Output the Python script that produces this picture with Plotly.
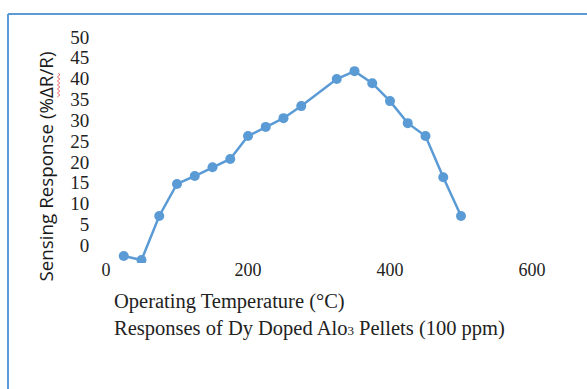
import plotly.graph_objects as go

# Operating temperature (°C) and sensing response (%ΔR/R)
temperature = [25, 50, 75, 100, 125, 150, 175, 200, 225, 250, 275,
               325, 350, 375, 400, 425, 450, 475, 500]
response = [-2.6, -3.6, 7.0, 14.7, 16.6, 18.7, 20.7, 26.2, 28.4, 30.5, 33.4,
            39.9, 41.8, 38.9, 34.6, 29.3, 26.2, 16.3, 7.0]

x_ticks = [0, 200, 400, 600]
y_ticks = [0, 5, 10, 15, 20, 25, 30, 35, 40, 45, 50]

W, H = 587, 389
L, R, T, B = 106, 55, 37, 126
plot_h = H - T - B


def py(pix):
    # pixel row -> paper y
    return (H - B - pix) / plot_h


def px(pix):
    # pixel column -> paper x
    return (pix - L) / (W - L - R)


blue = "#5B9BD5"
serif = "Liberation Serif, Times New Roman, serif"

fig = go.Figure()
fig.add_trace(go.Scatter(
    x=temperature, y=response, mode="lines+markers",
    line=dict(color=blue, width=2.5),
    marker=dict(color=blue, size=10),
    showlegend=False,
))

# spell-check style wavy underline beside the rotated axis title
wave_pts = [(58.5, 73)] + [(59.8 if i % 2 == 0 else 57.4, r)
                           for i, r in enumerate(range(75, 98, 2))]
wave_path = "M " + " L ".join(f"{px(a):.5f},{py(b):.5f}" for a, b in wave_pts)

fig.update_layout(
    width=W, height=H,
    margin=dict(l=L, r=R, t=T, b=B),
    paper_bgcolor="white", plot_bgcolor="white",
    xaxis=dict(range=[0, 600], tickvals=x_ticks, showgrid=False,
               zeroline=False, showline=False, ticks="",
               ticklabelstandoff=-6,
               tickfont=dict(family=serif, size=18, color="#222")),
    yaxis=dict(range=[-4.3, 50], tickvals=y_ticks, showgrid=False,
               zeroline=False, showline=False, ticks="outside",
               ticklen=12, tickcolor="rgba(0,0,0,0)",
               tickfont=dict(family=serif, size=19, color="#222")),
    annotations=[
        dict(text="Operating Temperature (°C)<br>Responses of Dy Doped Alo"
                  "<span style='font-size:13px'>3</span> Pellets (100 ppm)",
             xref="paper", yref="paper", x=px(112), y=py(288),
             xanchor="left", yanchor="top", align="left", showarrow=False,
             font=dict(family=serif, size=20.5, color="#222")),
        dict(text="Sensing Response (%ΔR/R)", textangle=-90,
             xref="paper", yref="paper", x=px(45), y=py(166.5),
             xanchor="center", yanchor="middle", showarrow=False,
             font=dict(family="Open Sans, sans-serif", size=18.8, color="#1a1a1a")),
    ],
    shapes=[
        dict(type="line", xref="paper", yref="paper",
             x0=px(8), x1=px(W), y0=py(14), y1=py(14),
             line=dict(color=blue, width=2)),
        dict(type="line", xref="paper", yref="paper",
             x0=px(8), x1=px(8), y0=py(14), y1=py(H),
             line=dict(color=blue, width=2)),
        dict(type="path", xref="paper", yref="paper", path=wave_path,
             line=dict(color="rgba(230,60,60,0.8)", width=1)),
    ],
)

fig.write_html("out.html")
